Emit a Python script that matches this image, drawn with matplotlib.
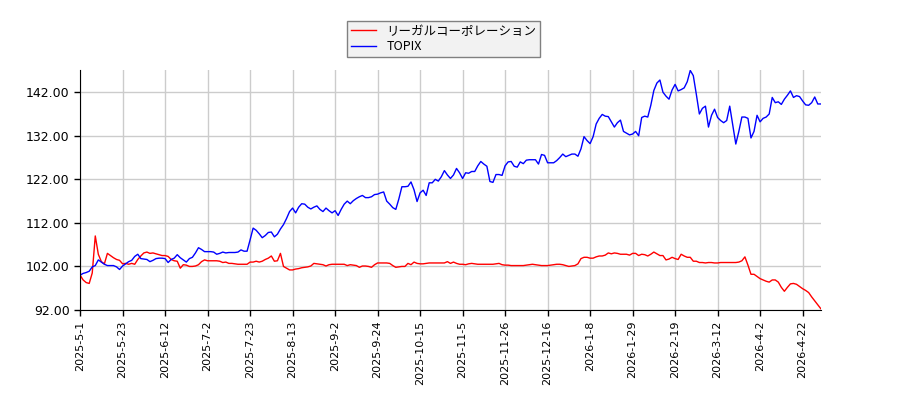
import matplotlib.pyplot as plt

plt.rcParams['font.family'] = ['Noto Sans CJK JP', 'DejaVu Sans']

# x tick labels (every 14 trading days)
tick_labels = ["2025-5-1", "2025-5-23", "2025-6-12", "2025-7-2", "2025-7-23",
               "2025-8-13", "2025-9-2", "2025-9-24", "2025-10-15", "2025-11-5",
               "2025-11-26", "2025-12-16", "2026-1-8", "2026-1-29", "2026-2-19",
               "2026-3-12", "2026-4-2", "2026-4-22"]

# リーガルコーポレーション (relative, start = 100)
regal = [
    100.0, 98.9, 98.3, 98.1, 100.5, 109.0, 104.8, 103.1, 102.6, 105.0,
    104.5, 104.0, 103.6, 103.4, 102.6, 102.7, 102.5, 102.7, 102.5, 103.6,
    104.4, 105.1, 105.3, 105.0, 105.1, 104.9, 104.7, 104.5, 104.5, 104.3,
    103.6, 103.3, 103.2, 101.6, 102.4, 102.3, 102.0, 102.0, 102.1, 102.4,
    103.1, 103.5, 103.3, 103.3, 103.3, 103.3, 103.2, 102.9, 103.0, 102.7,
    102.7, 102.6, 102.5, 102.5, 102.5, 102.5, 103.0, 103.0, 103.2, 103.0,
    103.2, 103.6, 103.9, 104.4, 103.2, 103.3, 105.0, 102.0, 101.6, 101.2,
    101.2, 101.4, 101.5, 101.7, 101.8, 101.9, 102.1, 102.7, 102.6, 102.5,
    102.4, 102.1, 102.4, 102.5, 102.5, 102.5, 102.5, 102.5, 102.2, 102.4,
    102.3, 102.2, 101.8, 102.1, 102.1, 102.0, 101.8, 102.4, 102.8, 102.8,
    102.8, 102.8, 102.7, 102.2, 101.8, 101.9, 102.0, 102.0, 102.7, 102.4,
    103.0, 102.7, 102.6, 102.6, 102.7, 102.8, 102.8, 102.8, 102.8, 102.8,
    102.8, 103.1, 102.7, 103.0, 102.7, 102.5, 102.5, 102.4, 102.6, 102.7,
    102.6, 102.5, 102.5, 102.5, 102.5, 102.5, 102.5, 102.6, 102.7, 102.4,
    102.3, 102.3, 102.2, 102.2, 102.2, 102.2, 102.2, 102.3, 102.4, 102.5,
    102.4, 102.3, 102.2, 102.2, 102.2, 102.3, 102.4, 102.5, 102.5, 102.4,
    102.2, 102.0, 102.1, 102.2, 102.6, 103.8, 104.1, 104.1, 103.9, 103.9,
    104.2, 104.4, 104.4, 104.6, 105.1, 104.9, 105.1, 105.0, 104.8, 104.8,
    104.8, 104.6, 105.0, 105.0, 104.5, 104.8, 104.7, 104.4, 104.8, 105.3,
    104.9, 104.5, 104.5, 103.5, 103.7, 104.1, 103.8, 103.6, 104.8, 104.4,
    104.1, 104.1, 103.2, 103.2, 102.9, 102.9, 102.8, 102.9, 102.9, 102.8,
    102.8, 102.9, 102.9, 102.9, 102.9, 102.9, 102.9, 103.0, 103.3, 104.2,
    102.3, 100.2, 100.2, 99.7, 99.2, 98.9, 98.6, 98.4, 98.9, 98.9,
    98.4, 97.2, 96.3, 97.2, 98.0, 98.1, 97.9, 97.4, 96.9, 96.5,
    96.0, 95.0, 94.1, 93.2, 92.3,
]

# TOPIX (relative, start = 100)
topix = [
    100.0, 100.4, 100.6, 100.9, 101.9, 102.2, 103.5, 103.0, 102.5, 102.2,
    102.2, 102.2, 101.9, 101.3, 102.1, 102.6, 103.1, 103.4, 104.3, 104.8,
    103.8, 103.7, 103.6, 103.1, 103.4, 103.8, 103.9, 103.9, 103.8, 102.9,
    103.6, 103.9, 104.7, 104.0, 103.5, 103.0, 103.8, 104.1, 105.1, 106.3,
    105.9, 105.4, 105.4, 105.4, 105.3, 104.8, 105.0, 105.3, 105.1, 105.2,
    105.2, 105.2, 105.3, 105.8, 105.5, 105.5, 108.1, 110.8, 110.3, 109.5,
    108.6, 109.1, 109.8, 109.9, 108.8, 109.4, 110.6, 111.6, 113.0, 114.6,
    115.4, 114.3, 115.6, 116.4, 116.3, 115.6, 115.2, 115.6, 115.9, 115.1,
    114.6, 115.4, 114.8, 114.3, 114.8, 113.7, 115.1, 116.3, 117.0, 116.4,
    117.1, 117.6, 118.0, 118.3, 117.8, 117.8, 118.0, 118.5, 118.6, 118.9,
    119.1, 117.0, 116.3, 115.5, 115.1, 117.5, 120.3, 120.3, 120.4, 121.4,
    119.6, 116.9, 118.9, 119.5, 118.3, 121.2, 121.2, 122.0, 121.6, 122.6,
    124.0, 123.0, 122.2, 123.0, 124.5, 123.5, 122.2, 123.5, 123.4, 123.8,
    123.8, 125.1, 126.1, 125.5, 125.0, 121.5, 121.3, 123.1, 123.1, 122.9,
    125.1, 126.0, 126.1, 125.0, 124.8, 126.0, 125.6, 126.4, 126.5, 126.5,
    126.5, 125.5, 127.7, 127.5, 125.8, 125.8, 125.8, 126.3, 127.0, 127.8,
    127.2, 127.5, 127.8, 127.8, 127.3, 129.0, 131.8, 130.9, 130.2, 131.8,
    134.7, 136.0, 136.9, 136.5, 136.4, 135.2, 134.0, 135.0, 135.6, 133.0,
    132.6, 132.2, 132.4, 133.0, 132.0, 136.2, 136.5, 136.3, 139.0, 142.4,
    144.1, 144.8, 142.0, 141.1, 140.4, 142.5, 143.8, 142.3, 142.6, 143.0,
    144.4, 147.0, 145.8, 141.5, 137.0, 138.3, 138.8, 134.0, 136.7, 138.1,
    136.2, 135.5, 135.0, 135.5, 138.8, 134.5, 130.1, 133.0, 136.3, 136.3,
    136.0, 131.5, 133.0, 136.7, 135.2, 136.0, 136.3, 137.0, 140.8, 139.6,
    139.8, 139.2, 140.4, 141.3, 142.3, 140.8, 141.2, 141.0, 140.0, 139.1,
    139.0, 139.6, 140.9, 139.3, 139.3,
]

x = list(range(len(topix)))
yticks = [92, 102, 112, 122, 132, 142]

fig = plt.figure(figsize=(9, 4), dpi=100)
ax = fig.add_axes([0.089, 0.225, 0.823, 0.6])

ax.plot(x, regal, color="red", linewidth=1.0, label="リーガルコーポレーション")
ax.plot(x, topix, color="blue", linewidth=1.0, label="TOPIX")

ax.set_xlim(0, len(topix) - 1)
ax.set_ylim(92, 147.1)
ax.set_xticks(list(range(0, 14 * len(tick_labels), 14)))
ax.set_xticklabels(tick_labels, rotation=90, fontsize=8, family="DejaVu Sans")
ax.set_yticks(yticks)
ax.set_yticklabels([f"{v:.2f}" for v in yticks], fontsize=9, family="DejaVu Sans")
ax.grid(True, color="#cccccc", linewidth=1.0)
ax.set_axisbelow(True)
ax.spines["top"].set_visible(False)
ax.spines["right"].set_visible(False)
ax.tick_params(length=4, width=1)

fig.legend(loc="upper center", bbox_to_anchor=(0.493, 0.963), fontsize=9,
           frameon=True, fancybox=False, edgecolor="#808080",
           facecolor="#f2f2f2", framealpha=1.0, handlelength=2.0,
           labelspacing=0.2, borderpad=0.3)

fig.savefig("out.png", dpi=100)
